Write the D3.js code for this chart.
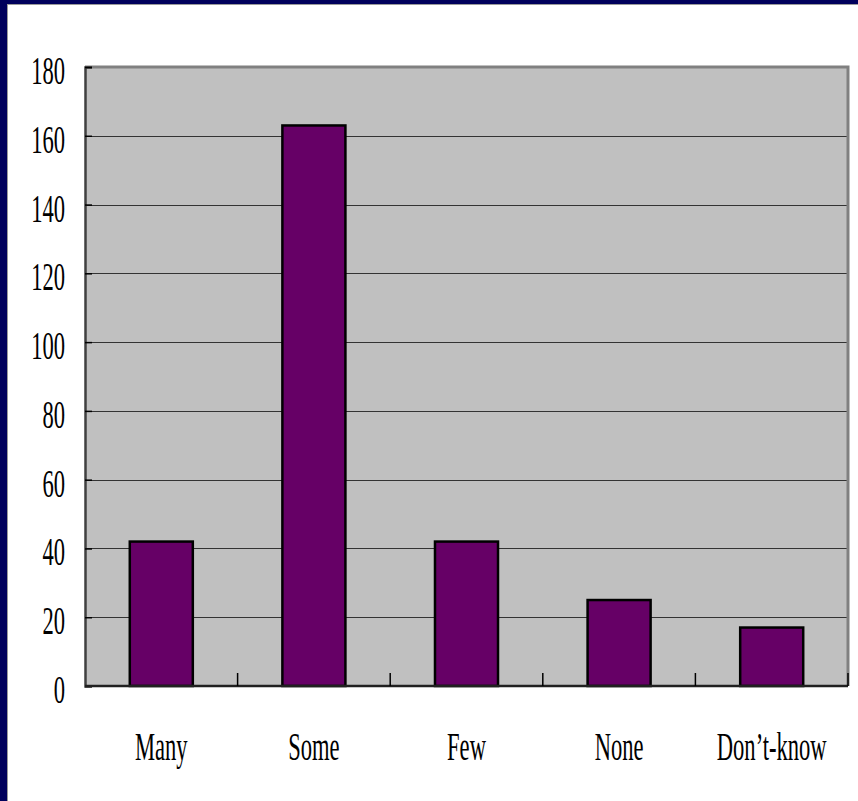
<!DOCTYPE html>
<html>
<head>
<meta charset="utf-8">
<script src="https://cdn.jsdelivr.net/npm/d3@7"></script>
<style>
  html, body { margin: 0; padding: 0; background: #00005a; }
  svg { display: block; }
</style>
</head>
<body>
<svg id="chart" width="858" height="801"></svg>
<script>
// Survey answers and counts
const categories = ["Many", "Some", "Few", "None", "Don\u2019t-know"];
const counts = [42, 163, 42, 25, 17];
const yTicks = [0, 20, 40, 60, 80, 100, 120, 140, 160, 180];

const W = 858, H = 801;
const plot = { left: 85, right: 848, top: 67, bottom: 686 };

const svg = d3.select("#chart");

// Dark blue frame with white panel
svg.append("rect").attr("x", 0).attr("y", 0).attr("width", W).attr("height", H).attr("fill", "#00005c");
svg.append("rect").attr("x", 7).attr("y", 4).attr("width", W - 7).attr("height", H - 4).attr("fill", "#9a9a9a");
svg.append("rect").attr("x", 8).attr("y", 5).attr("width", W - 8).attr("height", H - 5).attr("fill", "#ffffff");

const x = d3.scaleBand().domain(categories).range([plot.left, plot.right]).paddingInner(0).paddingOuter(0);
const y = d3.scaleLinear().domain([0, 180]).range([plot.bottom, plot.top]);

// Plot area
svg.append("rect")
  .attr("x", plot.left).attr("y", y(180))
  .attr("width", plot.right - plot.left).attr("height", y(0) - y(180))
  .attr("fill", "#c0c0c0");

// Gridlines
svg.append("g").selectAll("line")
  .data(yTicks.filter(v => v > 0 && v < 180))
  .join("line")
  .attr("x1", plot.left).attr("x2", plot.right)
  .attr("y1", d => Math.round(y(d)) + 0.5).attr("y2", d => Math.round(y(d)) + 0.5)
  .attr("stroke", "#333333").attr("stroke-width", 1);

// Top and right border of plot area
svg.append("path")
  .attr("d", `M${plot.left},${y(180)}H${plot.right}V${y(0)}`)
  .attr("fill", "none").attr("stroke", "#808080").attr("stroke-width", 3);

// Bars
const barW = x.bandwidth() * 0.413;
svg.append("g").selectAll("rect")
  .data(categories.map((c, i) => ({ c, v: counts[i] })))
  .join("rect")
  .attr("x", d => x(d.c) + (x.bandwidth() - barW) / 2)
  .attr("y", d => y(d.v))
  .attr("width", barW)
  .attr("height", d => y(0) - y(d.v))
  .attr("fill", "#660066")
  .attr("stroke", "#000000").attr("stroke-width", 2.5);

// Y axis (ticks point inward)
const yAxis = d3.axisLeft(y).tickValues(yTicks).tickSize(-7).tickPadding(0).tickFormat(d3.format("d"));
const gy = svg.append("g").attr("transform", `translate(${plot.left},0)`).call(yAxis);
gy.select(".domain").attr("stroke", "#404040").attr("stroke-width", 2.5);
gy.selectAll(".tick line").attr("stroke", "#000000").attr("stroke-width", 1.5);
gy.selectAll(".tick text").remove();

// X axis with tick marks at category boundaries
const gx = svg.append("g").attr("transform", `translate(0,${plot.bottom})`);
gx.append("line").attr("x1", plot.left).attr("x2", plot.right).attr("y1", 0).attr("y2", 0)
  .attr("stroke", "#202020").attr("stroke-width", 2.5);
gx.selectAll("line.bt")
  .data(categories.slice(1).map(c => x(c)).concat([plot.right]))
  .join("line").attr("class", "bt")
  .attr("x1", d => d).attr("x2", d => d).attr("y1", 0).attr("y2", -13)
  .attr("stroke", "#000000").attr("stroke-width", 1.5);

// Condensed serif labels
const fontSize = 41, squeeze = 0.55;
svg.append("g").selectAll("text")
  .data(yTicks)
  .join("text")
  .attr("transform", d => `translate(65,${y(d) + 17}) scale(${squeeze},1)`)
  .attr("text-anchor", "end")
  .attr("font-family", "Liberation Serif, serif")
  .attr("font-size", fontSize)
  .attr("fill", "#000")
  .text(d => d);

svg.append("g").selectAll("text")
  .data(categories)
  .join("text")
  .attr("transform", d => `translate(${x(d) + x.bandwidth() / 2},760) scale(${squeeze},1)`)
  .attr("text-anchor", "middle")
  .attr("font-family", "Liberation Serif, serif")
  .attr("font-size", fontSize)
  .attr("fill", "#000")
  .text(d => d);
</script>
</body>
</html>
